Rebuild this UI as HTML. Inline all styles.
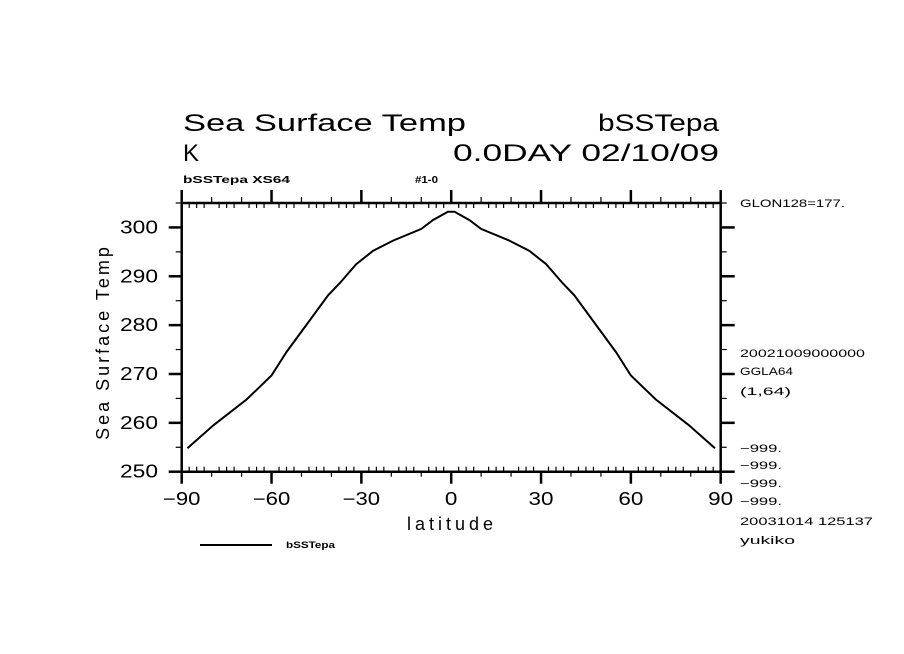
<!DOCTYPE html>
<html><head><meta charset="utf-8"><style>
html,body{margin:0;padding:0;background:#fff}
svg{display:block}
text{font-family:"Liberation Sans",sans-serif;fill:#000}
</style></head><body>
<svg id="chart" width="904" height="654" viewBox="0 0 904 654" xmlns="http://www.w3.org/2000/svg">
<g>
<text x="183" y="131" font-size="24" textLength="283" lengthAdjust="spacingAndGlyphs">Sea Surface Temp</text>
<text x="598" y="131" font-size="24" textLength="121" lengthAdjust="spacingAndGlyphs">bSSTepa</text>
<text x="183" y="161" font-size="24" textLength="16" lengthAdjust="spacingAndGlyphs">K</text>
<text x="453" y="161" font-size="24" textLength="266" lengthAdjust="spacingAndGlyphs">0.0DAY 02/10/09</text>
<text x="183" y="183" font-size="10" font-weight="bold" textLength="107" lengthAdjust="spacingAndGlyphs">bSSTepa XS64</text>
<text x="415" y="183" font-size="10" font-weight="bold" textLength="23" lengthAdjust="spacingAndGlyphs">#1-0</text>
</g>
<g id="axes"></g>
<g id="series"></g>
<g font-size="11">
<text x="740" y="207" font-size="11" textLength="105" lengthAdjust="spacingAndGlyphs">GLON128=177.</text>
<text x="740" y="357" font-size="11" textLength="125" lengthAdjust="spacingAndGlyphs">20021009000000</text>
<text x="740" y="375" font-size="11" textLength="53" lengthAdjust="spacingAndGlyphs">GGLA64</text>
<text x="740" y="395" font-size="11" textLength="51" lengthAdjust="spacingAndGlyphs">(1,64)</text>
<text x="740" y="452" font-size="11" textLength="42" lengthAdjust="spacingAndGlyphs">−999.</text>
<text x="740" y="469" font-size="11" textLength="42" lengthAdjust="spacingAndGlyphs">−999.</text>
<text x="740" y="487" font-size="11" textLength="42" lengthAdjust="spacingAndGlyphs">−999.</text>
<text x="740" y="505" font-size="11" textLength="42" lengthAdjust="spacingAndGlyphs">−999.</text>
<text x="740" y="525" font-size="11" textLength="133" lengthAdjust="spacingAndGlyphs">20031014 125137</text>
<text x="740" y="544" font-size="11" textLength="55" lengthAdjust="spacingAndGlyphs">yukiko</text>
</g>
<g>
<line x1="200" y1="545" x2="272" y2="545" stroke="#000" stroke-width="2"/>
<text x="286" y="548" font-size="9" font-weight="bold" textLength="49" lengthAdjust="spacingAndGlyphs">bSSTepa</text>
</g>
</svg>
<script>
const lats = [-88.1,-79.4,-68.3,-60,-55,-48.3,-41.1,-37.2,-31.7,-26.1,-19.4,-10,-6.1,-1.1,1.1,6.1,10,19.4,26.1,31.7,37.2,41.1,48.3,55,60,68.3,79.4,88.1];
const sstValues = [254.8,259.5,264.8,269.7,274.5,280.1,286.1,288.6,292.5,295.2,297.3,299.7,301.5,303.2,303.2,301.5,299.7,297.3,295.2,292.5,288.6,286.1,280.1,274.5,269.7,264.8,259.5,254.8];
const xTickLabels = ["−90","−60","−30","0","30","60","90"];
const xTickValues = [-90,-60,-30,0,30,60,90];
const yTickValues = [250,260,270,280,290,300];

const L=181.7,R=720.7,B=471.7,T=203;
const xMin=-90,xMax=90,yMin=250,yMax=305;
const sx=v=>L+(v-xMin)/(xMax-xMin)*(R-L);
const sy=v=>B-(v-yMin)/(yMax-yMin)*(B-T);
const NS="http://www.w3.org/2000/svg";
const axes=document.getElementById('axes');
function ln(x1,y1,x2,y2,w,name){const e=document.createElementNS(NS,'line');
e.setAttribute('x1',x1);e.setAttribute('y1',y1);e.setAttribute('x2',x2);e.setAttribute('y2',y2);
e.setAttribute('stroke','#000');e.setAttribute('stroke-width',w);


axes.appendChild(e);}
function tx(x,y,s,size,anchor,name){const e=document.createElementNS(NS,'text');
e.setAttribute('x',x);e.setAttribute('y',y);e.setAttribute('font-size',size);e.setAttribute('text-anchor',anchor);e.textContent=s;


axes.appendChild(e);return e;}
ln(L,T,R,T,2.5,'frame-top');ln(L,B,R,B,2.5,'frame-bottom');ln(L,T-1,L,B+1,2.5,'frame-left');ln(R,T-1,R,B+1,2.5,'frame-right');
for(let v=-90;v<=90;v+=2.5){const x=sx(v);
 if(v%30===0){ln(x,B,x,B+12,2.5,'x-major-tick');ln(x,T,x,T-13,2.5,'x-major-tick-top');}
 else if(v%10===0){ln(x,B,x,B+5,1.2,'x-mid-tick');ln(x,T,x,T-6,1.2,'x-mid-tick-top');}
 else{ln(x,B,x,B-5,1.2,'x-minor-tick');ln(x,T,x,T+5,1.2,'x-minor-tick-top');}}
for(let v=250;v<=305;v+=5){const y=sy(v);
 if(v%10===0){ln(L,y,L-13,y,2.5,'y-major-tick');ln(R,y,R+14,y,2.5,'y-major-tick-right');}
 else{ln(L,y,L-6,y,1.2,'y-minor-tick');ln(R,y,R+6,y,1.2,'y-minor-tick-right');}}
xTickValues.forEach((v,i)=>{const s=xTickLabels[i];const e=tx(sx(v),505,s,18,'middle','x-tick-label');
 e.setAttribute('textLength',s.length*12.5);e.setAttribute('lengthAdjust','spacingAndGlyphs');});
yTickValues.forEach(v=>{const e=tx(158,sy(v)+6,String(v),18,'end','y-tick-label');
 e.setAttribute('textLength',38);e.setAttribute('lengthAdjust','spacingAndGlyphs');});
const xt=tx(452,530,'latitude',18,'middle','x-axis-title');xt.setAttribute('letter-spacing','4');
const yt=tx(0,0,'Sea Surface Temp',18,'middle','y-axis-title');yt.setAttribute('letter-spacing','3');
yt.setAttribute('transform','translate(109,342) rotate(-90)');
const g=document.getElementById('series');
const p=document.createElementNS(NS,'polyline');
p.setAttribute('points',lats.map((la,i)=>sx(la).toFixed(1)+','+sy(sstValues[i]).toFixed(1)).join(' '));
p.setAttribute('fill','none');p.setAttribute('stroke','#000');p.setAttribute('stroke-width','2');


g.appendChild(p);
</script>
</body></html>
